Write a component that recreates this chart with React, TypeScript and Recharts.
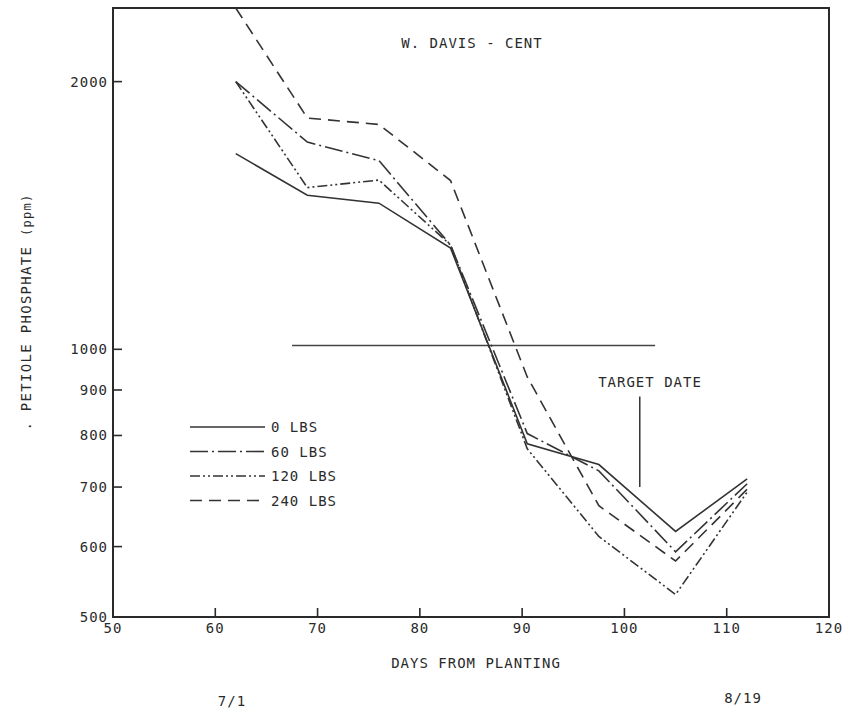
import {
  Line,
  LineChart,
  ReferenceArea,
  ReferenceLine,
  XAxis,
  YAxis,
} from "recharts";

// days from planting (sampling dates)
const days = [62, 69, 76, 83, 90.5, 97.5, 105, 112];

// petiole phosphate, ppm, per N rate
const lbs0 = [1660, 1490, 1460, 1300, 783, 742, 624, 715];
const lbs60 = [2000, 1710, 1630, 1310, 804, 730, 592, 706];
const lbs120 = [2000, 1520, 1550, 1310, 773, 616, 530, 691];
const lbs240 = [2420, 1820, 1790, 1548, 931, 667, 578, 696];

const xTicks = [50, 60, 70, 80, 90, 100, 110, 120];
const yTicks = [500, 600, 700, 800, 900, 1000, 2000];

const series = [
  { key: "lbs0", name: "0 LBS", dash: undefined as string | undefined },
  { key: "lbs60", name: "60 LBS", dash: "18 4 2 4" },
  { key: "lbs120", name: "120 LBS", dash: "10 3 2 3 2 3" },
  { key: "lbs240", name: "240 LBS", dash: "12 7" },
];

const data = days.map((day, i) => ({
  day,
  lbs0: lbs0[i],
  lbs60: lbs60[i],
  lbs120: lbs120[i],
  lbs240: lbs240[i],
}));

const INK = "#2a2a2a";
const FONT = "'DejaVu Sans Mono', monospace";
const TICK = 9;
const GAP = 5;

// mirrored axes draw the tick marks inward; labels are pushed back outside
function YTick(props: any) {
  const { x, y, payload } = props;
  return (
    <text
      x={Number(x) - TICK - GAP}
      y={y}
      dy={5}
      textAnchor="end"
      fontFamily={FONT}
      fontSize={14}
      fill={INK}
      letterSpacing={1}
    >
      {payload.value}
    </text>
  );
}

function XTick(props: any) {
  const { x, y, payload } = props;
  return (
    <text
      x={x}
      y={Number(y) + TICK + GAP}
      dy={11}
      textAnchor="middle"
      fontFamily={FONT}
      fontSize={14}
      fill={INK}
      letterSpacing={1}
    >
      {payload.value}
    </text>
  );
}

export default function App() {
  return (
    <div style={{ position: "absolute", left: 0, top: 0, width: 847, height: 712, background: "#fff" }}>
      <LineChart
        width={847}
        height={712}
        data={data}
        margin={{ top: 8, right: 18, bottom: 95, left: 113 }}
      >
        <XAxis
          dataKey="day"
          type="number"
          domain={[50, 120]}
          ticks={xTicks}
          interval={0}
          allowDataOverflow
          mirror
          tickSize={TICK}
          tickMargin={0}
          tick={<XTick />}
          axisLine={{ stroke: INK, strokeWidth: 2 }}
          tickLine={{ stroke: INK, strokeWidth: 1.6 }}
        />
        <YAxis
          type="number"
          scale="log"
          domain={[500, 2420]}
          ticks={yTicks}
          interval={0}
          allowDataOverflow
          mirror
          tickSize={TICK}
          tickMargin={0}
          tick={<YTick />}
          axisLine={{ stroke: INK, strokeWidth: 2 }}
          tickLine={{ stroke: INK, strokeWidth: 1.6 }}
        />
        <ReferenceArea
          x1={50}
          x2={120}
          y1={500}
          y2={2420}
          fill="none"
          fillOpacity={0}
          stroke={INK}
          strokeWidth={2}
        />
        <ReferenceLine
          segment={[
            { x: 67.5, y: 1010 },
            { x: 103, y: 1010 },
          ]}
          stroke="#444"
          strokeWidth={1.5}
        />
        <ReferenceLine
          segment={[
            { x: 101.5, y: 700 },
            { x: 101.5, y: 885 },
          ]}
          stroke="#333"
          strokeWidth={1.5}
        />
        {series.map((s) => (
          <Line
            key={s.key}
            type="linear"
            dataKey={s.key}
            name={s.name}
            stroke="#333"
            strokeWidth={1.6}
            strokeDasharray={s.dash}
            dot={false}
            isAnimationActive={false}
          />
        ))}
      </LineChart>

      <svg
        width={847}
        height={712}
        style={{ position: "absolute", left: 0, top: 0, pointerEvents: "none" }}
        fontFamily={FONT}
        fill={INK}
        fontSize={14}
        letterSpacing={1}
      >
        <text x={472} y={48} textAnchor="middle">W. DAVIS  - CENT</text>
        <text x={650} y={387} textAnchor="middle">TARGET DATE</text>
        <text x={476} y={668} textAnchor="middle">DAYS FROM PLANTING</text>
        <text x={232} y={706} textAnchor="middle">7/1</text>
        <text x={743} y={703} textAnchor="middle">8/19</text>
        <text
          transform="translate(31,312) rotate(-90)"
          textAnchor="middle"
          fontSize={14}
          letterSpacing={1.3}
        >
          . PETIOLE PHOSPHATE <tspan fontSize={12}>(ppm)</tspan>
        </text>
        {series.map((s, i) => {
          const y = 427 + i * 24.5;
          return (
            <g key={s.key}>
              <line
                x1={190}
                x2={265}
                y1={y}
                y2={y}
                stroke="#333"
                strokeWidth={1.6}
                strokeDasharray={s.dash}
              />
              <text x={271} y={y + 5}>{s.name}</text>
            </g>
          );
        })}
      </svg>
    </div>
  );
}
